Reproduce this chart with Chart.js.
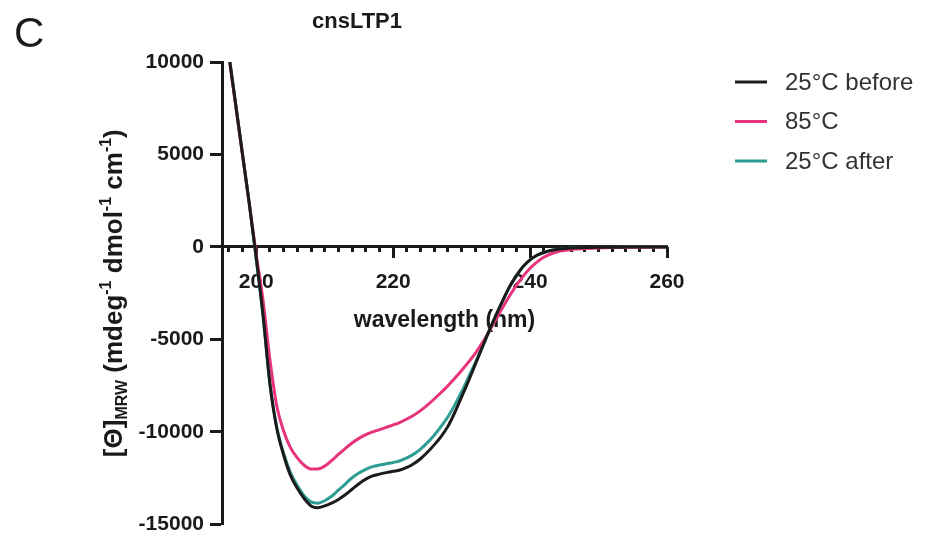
<!DOCTYPE html>
<html>
<head>
<meta charset="utf-8">
<script src="https://cdn.jsdelivr.net/npm/chart.js@4.4.0/dist/chart.umd.min.js"></script>
<style>
  html, body { margin: 0; padding: 0; background: #fff; }
</style>
</head>
<body>
<canvas id="cd" width="925" height="543"></canvas>
<script>
// CD spectra of cnsLTP1, mean residue ellipticity vs wavelength
const wavelengths = [
  195, 196, 197, 198, 199, 200, 201, 202, 203, 204, 205, 206, 207, 208, 209, 210,
  211, 212, 213, 214, 215, 216, 217, 218, 219, 220, 221, 222, 223, 224, 225, 226,
  227, 228, 229, 230, 231, 232, 233, 234, 235, 236, 237, 238, 239, 240, 241, 242,
  243, 244, 245, 246, 247, 248, 249, 250, 251, 252, 253, 254, 255, 256, 257, 258,
  259, 260
];

const before25 = [
  13100, 10400, 7700, 5000, 2300, -600, -3700, -7400, -9800, -11250, -12350, -13050, -13600, -14000, -14100, -14000,
  -13850, -13650, -13400, -13100, -12800, -12550, -12380, -12280, -12200, -12130, -12060, -11920, -11720, -11450, -11100, -10700,
  -10250, -9700, -8950, -8100, -7250, -6350, -5450, -4550, -3700, -2900, -2150, -1550, -1050, -700, -450, -300,
  -190, -130, -90, -60, -45, -35, -25, -20, -15, -12, -10, -8, -6, -5, -4, -3,
  -2, -2
];

const heated85 = [
  13000, 10300, 7650, 4950, 2300, -400, -2900, -6100, -8600, -9950, -10850, -11400, -11800, -12000, -12000, -11850,
  -11550, -11220, -10900, -10600, -10350, -10150, -10000, -9880, -9750, -9620, -9480, -9300, -9100, -8850, -8550, -8220,
  -7870, -7500, -7100, -6680, -6230, -5750, -5200, -4580, -3920, -3270, -2650, -2080, -1580, -1150, -820, -560,
  -380, -260, -190, -140, -110, -85, -65, -50, -40, -32, -25, -20, -15, -12, -10, -8,
  -6, -5
];

const after25 = [
  13100, 10400, 7700, 5000, 2300, -650, -3750, -7400, -9750, -11150, -12200, -12900, -13450, -13780, -13850, -13720,
  -13480, -13150, -12820, -12480, -12220, -12020, -11880, -11790, -11720, -11650, -11560, -11400, -11200, -10930, -10580, -10180,
  -9700, -9180, -8550, -7830, -7050, -6250, -5400, -4550, -3720, -2920, -2170, -1560, -1060, -700, -450, -300,
  -190, -130, -90, -60, -45, -35, -25, -20, -15, -12, -10, -8, -6, -5, -4, -3,
  -2, -2
];

const seriesNames = ['25°C before', '85°C', '25°C after'];
const seriesColors = ['#1b1b1b', '#e6337b', '#2e9d92'];

const xMajorTicks = [200, 220, 240, 260];
const xMinorTicks = [
  196, 198, 200, 202, 204, 206, 208, 210, 212, 214, 216, 218, 220, 222, 224, 226,
  228, 230, 232, 234, 236, 238, 240, 242, 244, 246, 248, 250, 252, 254, 256, 258, 260
];
const yTicks = [-15000, -10000, -5000, 0, 5000, 10000];

const FONT = '"Liberation Sans", Arial, Helvetica, sans-serif';
const INK = '#1a1a1a';

Chart.defaults.font.family = FONT;
Chart.defaults.color = INK;

// y axis title with subscript / superscripts
const yTitleParts = [
  { text: '[Θ]', size: 26, shift: 0 },
  { text: 'MRW', size: 16, shift: 5 },
  { text: ' (mdeg', size: 26, shift: 0 },
  { text: '-1', size: 16, shift: -11 },
  { text: ' dmol', size: 26, shift: 0 },
  { text: '-1', size: 16, shift: -11 },
  { text: ' cm', size: 26, shift: 0 },
  { text: '-1', size: 16, shift: -11 },
  { text: ')', size: 26, shift: 0 }
];

const figureText = {
  id: 'figureText',
  afterDraw(chart) {
    const { ctx, chartArea } = chart;
    ctx.save();
    ctx.fillStyle = INK;

    // panel letter
    ctx.font = '42px ' + FONT;
    ctx.textAlign = 'left';
    ctx.textBaseline = 'alphabetic';
    ctx.fillText('C', 14, 47);

    // title
    ctx.font = 'bold 22px ' + FONT;
    ctx.textAlign = 'center';
    ctx.fillText('cnsLTP1', 357, 28);

    // rotated y title
    ctx.save();
    ctx.translate(113, (chartArea.top + chartArea.bottom) / 2);
    ctx.rotate(-Math.PI / 2);
    ctx.textAlign = 'left';
    let total = 0;
    yTitleParts.forEach(p => {
      ctx.font = 'bold ' + p.size + 'px ' + FONT;
      p.w = ctx.measureText(p.text).width;
      total += p.w;
    });
    let u = -total / 2;
    yTitleParts.forEach(p => {
      ctx.font = 'bold ' + p.size + 'px ' + FONT;
      ctx.fillText(p.text, u, 9 + p.shift);
      u += p.w;
    });
    ctx.restore();

    // legend
    const lx = chartArea.right + 68;
    chart.data.datasets.forEach((ds, i) => {
      const y = 82 + i * 39.5;
      ctx.strokeStyle = ds.borderColor;
      ctx.lineWidth = 3;
      ctx.beginPath();
      ctx.moveTo(lx, y);
      ctx.lineTo(lx + 32, y);
      ctx.stroke();
      ctx.fillStyle = '#333';
      ctx.font = '24px ' + FONT;
      ctx.textAlign = 'left';
      ctx.textBaseline = 'middle';
      ctx.fillText(ds.label, lx + 50, y + 1);
    });
    ctx.restore();
  }
};

const axisTicks = {
  drawOnChartArea: false,
  drawTicks: true,
  tickWidth: 3,
  tickColor: INK
};

new Chart(document.getElementById('cd'), {
  type: 'line',
  data: {
    labels: wavelengths,
    datasets: [
      { label: seriesNames[0], data: before25, borderColor: seriesColors[0] },
      { label: seriesNames[1], data: heated85, borderColor: seriesColors[1] },
      { label: seriesNames[2], data: after25, borderColor: seriesColors[2] }
    ]
  },
  options: {
    responsive: false,
    animation: false,
    devicePixelRatio: 1,
    layout: { padding: { top: 62, bottom: 13, left: 132, right: 258 } },
    elements: {
      point: { radius: 0 },
      line: { borderWidth: 3, cubicInterpolationMode: 'monotone', fill: false }
    },
    plugins: {
      legend: { display: false },
      tooltip: { enabled: false }
    },
    scales: {
      x: {
        type: 'linear',
        min: 195,
        max: 260,
        position: { y: 0 },
        afterBuildTicks: s => { s.ticks = xMajorTicks.map(v => ({ value: v })); },
        afterFit: s => { s.height = 0; },
        grid: Object.assign({ tickLength: 10 }, axisTicks),
        border: { display: true, color: INK, width: 3 },
        ticks: { font: { size: 21, weight: 'bold' }, color: INK, padding: 13, maxRotation: 0 },
        title: {
          display: true,
          text: 'wavelength (nm)',
          font: { size: 23, weight: 'bold' },
          color: INK,
          padding: { top: 0, bottom: -87 }
        }
      },
      xMinor: {
        type: 'linear',
        min: 195,
        max: 260,
        position: { y: 0 },
        afterBuildTicks: s => { s.ticks = xMinorTicks.map(v => ({ value: v })); },
        afterFit: s => { s.height = 0; },
        grid: Object.assign({ tickLength: 5 }, axisTicks),
        border: { display: false },
        ticks: { display: false }
      },
      y: {
        min: -15000,
        max: 10000,
        afterBuildTicks: s => { s.ticks = yTicks.map(v => ({ value: v })); },
        afterFit: s => { s.width = 90; },
        grid: Object.assign({ tickLength: 12 }, axisTicks),
        border: { display: true, color: INK, width: 3 },
        ticks: { callback: v => String(v), font: { size: 21, weight: 'bold' }, color: INK, padding: 6 }
      }
    }
  },
  plugins: [figureText]
});
</script>
</body>
</html>
